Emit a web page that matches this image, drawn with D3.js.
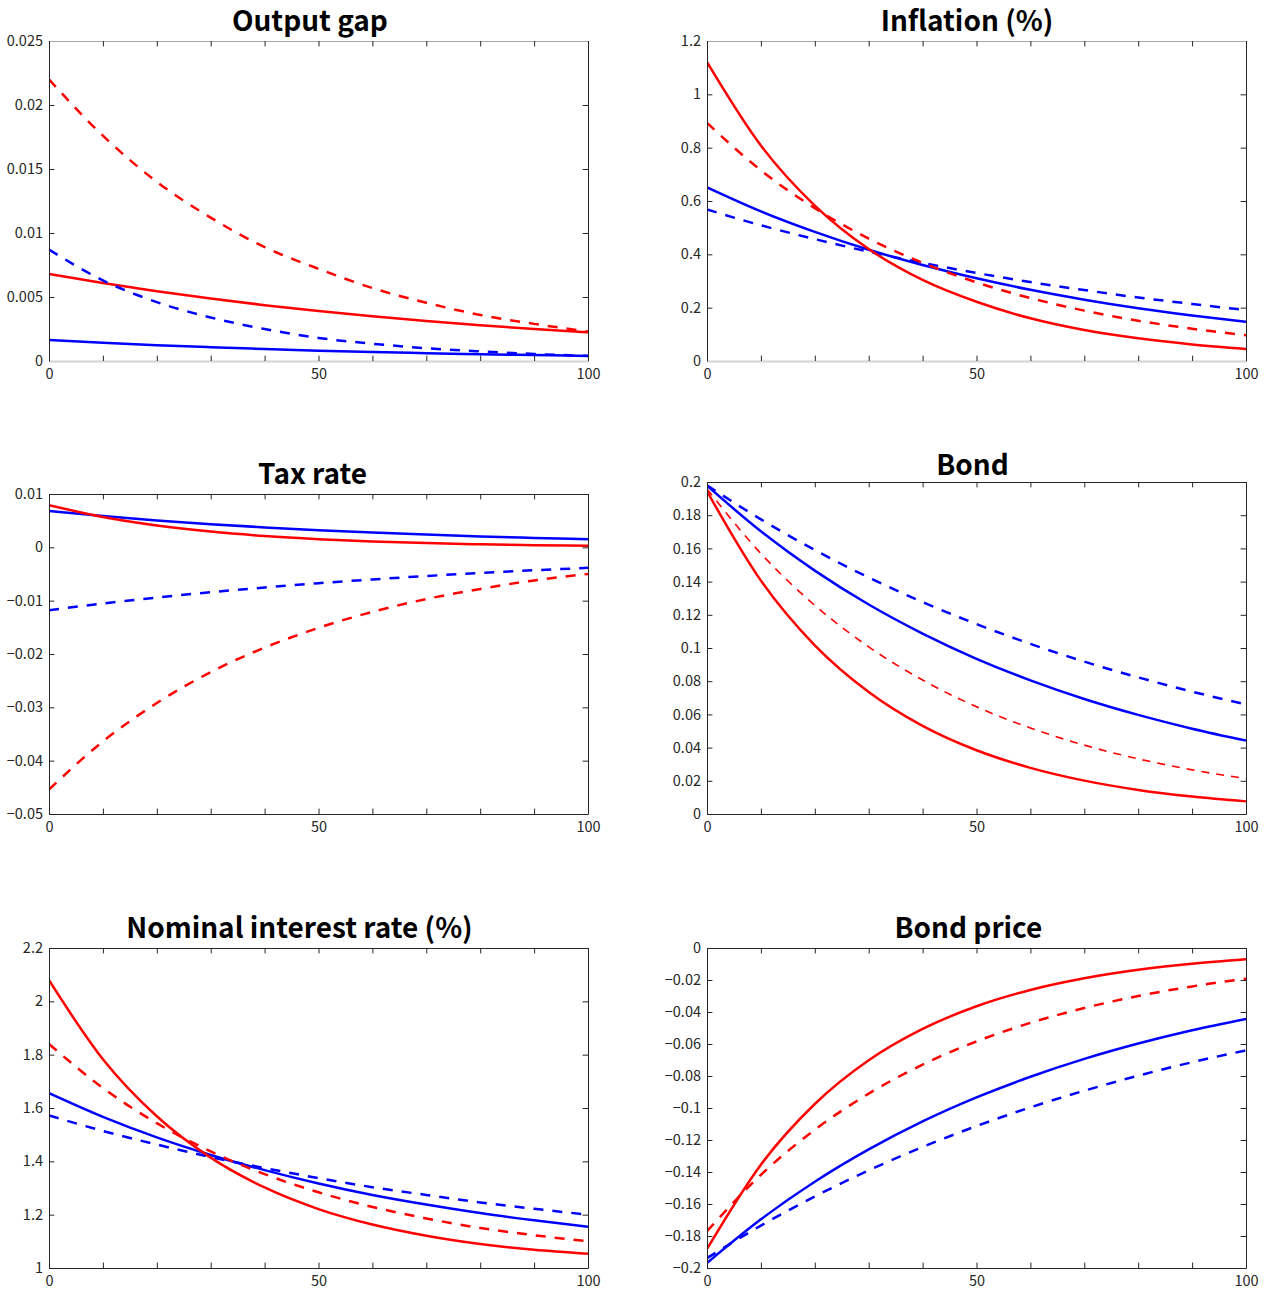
<!DOCTYPE html>
<html lang="en">
<head>
<meta charset="UTF-8">
<title>Impulse responses</title>
<script src="https://cdn.jsdelivr.net/npm/d3@7/dist/d3.min.js"></script>
<style>
    body { margin: 0; background: #fff; }
    svg { display: block; font-family: "Noto Sans CJK JP", "Noto Sans", sans-serif; }
    .panel-title { font-size: 28px; font-weight: bold; fill: #000; }
</style>
</head>
<body>
<svg id="chart" width="1269" height="1292"></svg>
<script>
    const periods = [0, 10, 20, 30, 40, 50, 60, 70, 80, 90, 100];
    const xTicks = [0, 10, 20, 30, 40, 50, 60, 70, 80, 90, 100];

    // Output gap
    const gapRedSolid   = [0.0068, 0.00609, 0.00545, 0.00488, 0.00436, 0.0039, 0.00349, 0.00313, 0.0028, 0.0025, 0.00224];
    const gapRedDash    = [0.0220, 0.0176, 0.0140, 0.0112, 0.0089, 0.0072, 0.0057, 0.00455, 0.0036, 0.0029, 0.0023];
    const gapBlueSolid  = [0.00164, 0.00143, 0.00124, 0.00108, 0.00094, 0.00081, 0.0007, 0.00061, 0.00053, 0.00046, 0.0004];
    const gapBlueDash   = [0.0087, 0.0063, 0.0046, 0.0034, 0.0025, 0.0018, 0.00135, 0.001, 0.00075, 0.00055, 0.0004];

    // Inflation (%)
    const infRedSolid   = [1.121, 0.808, 0.583, 0.420, 0.304, 0.222, 0.160, 0.116, 0.085, 0.062, 0.045];
    const infRedDash    = [0.893, 0.715, 0.573, 0.459, 0.368, 0.295, 0.236, 0.189, 0.151, 0.121, 0.097];
    const infBlueSolid  = [0.651, 0.561, 0.484, 0.417, 0.360, 0.310, 0.267, 0.230, 0.198, 0.171, 0.147];
    const infBlueDash   = [0.568, 0.509, 0.457, 0.410, 0.368, 0.330, 0.296, 0.266, 0.238, 0.214, 0.191];

    // Tax rate
    const taxRedSolid   = [0.0079, 0.00569, 0.0041, 0.00295, 0.00212, 0.00153, 0.0011, 0.00079, 0.00057, 0.00041, 0.0003];
    const taxRedDash    = [-0.0454, -0.0364, -0.0292, -0.0234, -0.0188, -0.0151, -0.0121, -0.0097, -0.0078, -0.0062, -0.0050];
    const taxBlueSolid  = [0.0068, 0.00586, 0.00504, 0.00434, 0.00374, 0.00322, 0.00277, 0.00239, 0.00205, 0.00177, 0.00152];
    const taxBlueDash   = [-0.0118, -0.01054, -0.00942, -0.00842, -0.00753, -0.00673, -0.00602, -0.00538, -0.00481, -0.0043, -0.00385];

    // Bond
    const bondRedSolid  = [0.1944, 0.1406, 0.1016, 0.0735, 0.0531, 0.0384, 0.0278, 0.0201, 0.0145, 0.0105, 0.0076];
    const bondRedDash   = [0.1958, 0.1569, 0.1257, 0.1007, 0.0807, 0.0646, 0.0518, 0.0415, 0.0332, 0.0266, 0.0213];
    const bondBlueSolid = [0.1978, 0.1703, 0.1466, 0.1262, 0.1087, 0.0935, 0.0805, 0.0693, 0.0597, 0.0514, 0.0442];
    const bondBlueDash  = [0.1980, 0.1775, 0.1590, 0.1425, 0.1277, 0.1144, 0.1025, 0.0918, 0.0823, 0.0737, 0.0660];

    // Nominal interest rate (%)
    const rateRedSolid  = [2.079, 1.783, 1.569, 1.414, 1.302, 1.221, 1.163, 1.121, 1.090, 1.068, 1.053];
    const rateRedDash   = [1.840, 1.675, 1.543, 1.437, 1.352, 1.284, 1.229, 1.186, 1.150, 1.123, 1.100];
    const rateBlueSolid = [1.656, 1.567, 1.490, 1.424, 1.367, 1.317, 1.274, 1.238, 1.206, 1.179, 1.155];
    const rateBlueDash  = [1.572, 1.514, 1.463, 1.416, 1.375, 1.337, 1.303, 1.274, 1.246, 1.222, 1.200];

    // Bond price
    const priceRedSolid  = [-0.1881, -0.1354, -0.0975, -0.0702, -0.0506, -0.0364, -0.0262, -0.0189, -0.0136, -0.0098, -0.0070];
    const priceRedDash   = [-0.1770, -0.1418, -0.1136, -0.0910, -0.0729, -0.0584, -0.0468, -0.0375, -0.0300, -0.0240, -0.0192];
    const priceBlueSolid = [-0.1969, -0.1696, -0.1461, -0.1259, -0.1084, -0.0934, -0.0805, -0.0693, -0.0597, -0.0514, -0.0443];
    const priceBlueDash  = [-0.1938, -0.1735, -0.1553, -0.1390, -0.1244, -0.1113, -0.0996, -0.0892, -0.0798, -0.0714, -0.0640];

    // y ticks per panel
    const gapTicks   = [0, 0.005, 0.01, 0.015, 0.02, 0.025];
    const infTicks   = [0, 0.2, 0.4, 0.6, 0.8, 1, 1.2];
    const taxTicks   = [-0.05, -0.04, -0.03, -0.02, -0.01, 0, 0.01];
    const bondTicks  = [0, 0.02, 0.04, 0.06, 0.08, 0.1, 0.12, 0.14, 0.16, 0.18, 0.2];
    const rateTicks  = [1, 1.2, 1.4, 1.6, 1.8, 2, 2.2];
    const priceTicks = [-0.2, -0.18, -0.16, -0.14, -0.12, -0.1, -0.08, -0.06, -0.04, -0.02, 0];

    const RED = "#ff0000", BLUE = "#0000ff", AXIS = "#262626";
    const styles = {
        solid: { width: 2.5, dash: null },
        dash:  { width: 2.5, dash: "10,9" },
        thin:  { width: 1.6, dash: "8,7" }
    };

    const colLeft = [49, 707];
    const panelW = 539;

    const panels = [
        { title: "Output gap", left: colLeft[0], top: 41, h: 320, ticks: gapTicks, soft: true,
          series: [[gapBlueSolid, BLUE, "solid"], [gapRedSolid, RED, "solid"], [gapBlueDash, BLUE, "dash"], [gapRedDash, RED, "dash"]] },
        { title: "Inflation (%)", left: colLeft[1], top: 41, h: 320, ticks: infTicks, soft: true,
          series: [[infBlueSolid, BLUE, "solid"], [infBlueDash, BLUE, "dash"], [infRedDash, RED, "dash"], [infRedSolid, RED, "solid"]] },
        { title: "Tax rate", left: colLeft[0], top: 494, h: 320, ticks: taxTicks,
          series: [[taxBlueSolid, BLUE, "solid"], [taxRedSolid, RED, "solid"], [taxBlueDash, BLUE, "dash"], [taxRedDash, RED, "dash"]] },
        { title: "Bond", left: colLeft[1], top: 482, h: 332, ticks: bondTicks, titleGap: 7,
          series: [[bondBlueDash, BLUE, "dash"], [bondBlueSolid, BLUE, "solid"], [bondRedDash, RED, "thin"], [bondRedSolid, RED, "solid"]] },
        { title: "Nominal interest rate (%)", left: colLeft[0], top: 948, h: 320, ticks: rateTicks,
          series: [[rateBlueSolid, BLUE, "solid"], [rateBlueDash, BLUE, "dash"], [rateRedDash, RED, "dash"], [rateRedSolid, RED, "solid"]] },
        { title: "Bond price", left: colLeft[1], top: 948, h: 320, ticks: priceTicks,
          series: [[priceBlueDash, BLUE, "dash"], [priceBlueSolid, BLUE, "solid"], [priceRedDash, RED, "dash"], [priceRedSolid, RED, "solid"]] }
    ];

    const svg = d3.select("#chart");
    svg.append("rect").attr("width", 1269).attr("height", 1292).attr("fill", "#fff");

    const fmt = v => String(+v.toFixed(4)).replace("-", "\u2212");

    function styleAxis(sel, domainColor, domainWidth) {
        sel.attr("font-family", null).attr("font-size", null);
        sel.select(".domain").attr("stroke", domainColor || AXIS).attr("stroke-width", domainWidth || 1);
        sel.selectAll(".tick line").attr("stroke", AXIS);
        sel.selectAll(".tick text").attr("fill", AXIS).style("font-size", "14.5px");
    }

    panels.forEach((p, i) => {
        const x = d3.scaleLinear().domain([0, 100]).range([p.left, p.left + panelW]);
        const y = d3.scaleLinear().domain(d3.extent(p.ticks)).range([p.top + p.h, p.top]);
        const g = svg.append("g");

        g.append("clipPath").attr("id", "clip" + i)
            .append("rect").attr("x", p.left).attr("y", p.top).attr("width", panelW).attr("height", p.h);

        const line = d3.line()
            .x((d, k) => x(periods[k]))
            .y(d => y(d))
            .curve(d3.curveMonotoneX);

        const lines = g.append("g").attr("clip-path", `url(#clip${i})`);
        p.series.forEach(([vals, color, kind]) => {
            const st = styles[kind];
            lines.append("path")
                .attr("d", line(vals))
                .attr("fill", "none")
                .attr("stroke", color)
                .attr("stroke-width", st.width)
                .attr("stroke-dasharray", st.dash);
        });

        const tl = 5.4;
        g.append("g").attr("transform", `translate(${p.left},0)`)
            .call(d3.axisLeft(y).tickValues(p.ticks).tickSize(-tl).tickSizeOuter(0).tickPadding(6).tickFormat(fmt))
            .call(s => styleAxis(s));
        g.append("g").attr("transform", `translate(${p.left + panelW},0)`)
            .call(d3.axisRight(y).tickValues(p.ticks).tickSize(-tl).tickSizeOuter(0).tickFormat(""))
            .call(s => styleAxis(s));
        g.append("g").attr("transform", `translate(0,${p.top})`)
            .call(d3.axisTop(x).tickValues(xTicks).tickSize(-tl).tickSizeOuter(0).tickFormat(""))
            .call(s => styleAxis(s, p.soft ? "#a8a8a8" : AXIS));
        g.append("g").attr("transform", `translate(0,${p.top + p.h})`)
            .call(d3.axisBottom(x).tickValues(xTicks).tickSize(-tl).tickSizeOuter(0).tickPadding(8)
                .tickFormat(d => d % 50 === 0 ? d : ""))
            .call(s => styleAxis(s, p.soft ? "#d4d4d4" : AXIS, p.soft ? 2 : 1));

        const title = g.append("text")
            .attr("class", "panel-title")
            .attr("x", p.left + panelW / 2)
            .attr("y", p.top - (p.titleGap || 10))
            .attr("text-anchor", "middle")
            .text(p.title);
        // the original titles sit a little left of centre
        const w = title.node().getComputedTextLength();
        title.attr("dx", -0.055 * w);
    });
</script>
</body>
</html>
